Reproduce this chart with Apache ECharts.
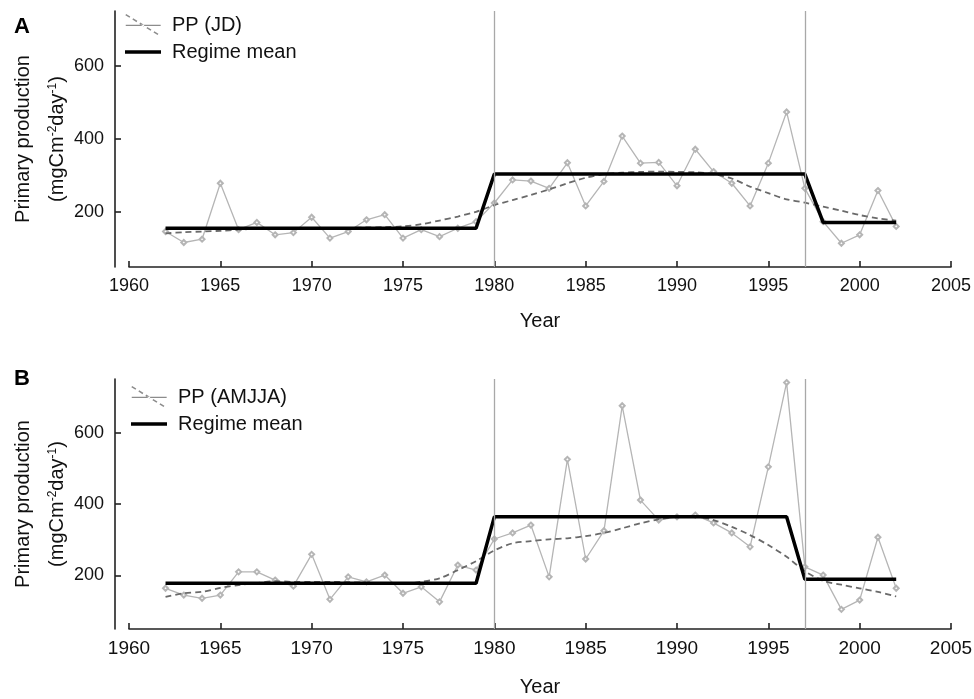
<!DOCTYPE html>
<html><head><meta charset="utf-8">
<script src="https://cdn.jsdelivr.net/npm/echarts@6/dist/echarts.min.js"></script>
<style>html,body{margin:0;padding:0;background:#fff}#c{width:974px;height:699px}</style>
</head><body><div id="c"></div>
<script>
// ---- data ----
const years = [1962,1963,1964,1965,1966,1967,1968,1969,1970,1971,1972,1973,1974,1975,1976,1977,1978,1979,
  1980,1981,1982,1983,1984,1985,1986,1987,1988,1989,1990,1991,1992,1993,1994,1995,1996,1997,1998,1999,2000,2001,2002];

const ppJD = [147,117,126,279,152,172,138,144,186,129,147,179,193,129,152,133,156,174,
  225,288,285,265,335,217,284,408,334,336,272,372,311,279,217,334,474,265,174,115,138,259,161];
const smoothJD = [142,145,147,149,152,155,156,156,157,157,157,158,159,161,167,177,188,201,
  219,233,247,262,279,294,304,308,310,311,310,309,304,292,270,252,235,226,215,204,192,183,177];
const regimeJDYears = [1962,1979,1980,1997,1998,2002];
const regimeJDValues = [156,156,304,304,172,172];

const ppAMJJA = [164,145,136,145,210,210,187,170,259,133,196,182,201,150,168,126,229,215,
  302,319,341,196,525,246,325,675,411,355,364,369,347,319,280,504,740,224,201,105,131,307,164];
const smoothAMJJA = [140,150,154,165,173,179,184,182,182,182,181,180,178,177,182,192,215,240,
  270,290,296,301,304,310,319,332,346,357,364,364,355,336,313,285,252,212,185,174,164,154,141];
const regimeAMJJAYears = [1962,1979,1980,1996,1997,2002];
const regimeAMJJAValues = [178,178,364,364,189,189];

const shiftYears = [1980, 1997];
const yTickValues = [200, 400, 600];
const panelLabels = ['A', 'B'];
const legendNames = ['PP (JD)', 'PP (AMJJA)'];

// ---- build ----
const FONT = "'Liberation Sans', Arial, sans-serif";
const pairs = (xs, ys) => xs.map((x, i) => [x, ys[i]]);

const ppIcon = 'path://M0 0 L0 0 Z M36 22 L36 22 Z M0 10.4 L36 10.4 L36 11.6 L0 11.6 Z ' +
  'M-0.42 0.68 L3.85 3.29 L4.69 1.93 L0.42 -0.68 Z ' +
  'M6.83 5.11 L11.1 7.71 L11.94 6.35 L7.67 3.75 Z ' +
  'M14.08 9.54 L18.35 12.14 L19.19 10.78 L14.92 8.18 Z ' +
  'M21.33 13.97 L25.6 16.57 L26.44 15.21 L22.17 12.61 Z ' +
  'M28.58 18.39 L32.85 21.0 L33.69 19.64 L29.42 17.03 Z';
const regIcon = 'path://M0 0 L0 0 Z M36 22 L36 22 Z M0 9.2 L36 9.2 L36 12.8 L0 12.8 Z';

const panels = [
  {pp: ppJD, sm: smoothJD, ry: regimeJDYears, rv: regimeJDValues, top: 11, height: 256, xFont: 18, nameGap: 44},
  {pp: ppAMJJA, sm: smoothAMJJA, ry: regimeAMJJAYears, rv: regimeAMJJAValues, top: 379, height: 250, xFont: 19, nameGap: 48}
];

const grid = [], xAxis = [], yAxis = [], series = [], legend = [], graphic = [];
panels.forEach((p, i) => {
  grid.push({left: 129, right: 23, top: p.top, height: p.height, containLabel: false, outerBoundsMode: 'none'});
  xAxis.push({
    type: 'value', gridIndex: i, min: 1960, max: 2005, interval: 5,
    axisLine: {show: true, onZero: false, lineStyle: {color: '#222', width: 1.6}},
    axisTick: {show: true, inside: true, length: 6, lineStyle: {color: '#222', width: 1.6}},
    axisLabel: {fontSize: p.xFont, color: '#111', margin: 10, fontFamily: FONT, formatter: v => String(v)},
    splitLine: {show: false},
    name: 'Year', nameLocation: 'middle', nameGap: p.nameGap, nameMoveOverlap: false,
    nameTextStyle: {fontSize: 20, color: '#111', fontFamily: FONT}
  });
  yAxis.push({
    type: 'value', gridIndex: i, min: 50, max: 750, offset: 14,
    axisLine: {show: true, onZero: false, lineStyle: {color: '#222', width: 1.6}},
    axisTick: {show: true, inside: true, length: 6, customValues: yTickValues, lineStyle: {color: '#222', width: 1.6}},
    axisLabel: {fontSize: 18, color: '#111', margin: 11, fontFamily: FONT, customValues: yTickValues, formatter: v => String(v)},
    splitLine: {show: false},
    name: '{t|Primary production}\n{t|(mgCm}{s|-2}{t|day}{s|-1}{t|)}',
    nameLocation: 'middle', nameRotate: 90, nameGap: 41, nameMoveOverlap: false,
    nameTextStyle: {
      fontFamily: FONT, color: '#111', fontSize: 20, lineHeight: 34,
      rich: {
        t: {fontSize: 20, lineHeight: 34, fontFamily: FONT, color: '#111'},
        s: {fontSize: 12, verticalAlign: 'top', padding: [7, 0, 0, 0], fontFamily: FONT, color: '#111'}
      }
    }
  });
  series.push({
    name: legendNames[i], type: 'line', xAxisIndex: i, yAxisIndex: i,
    data: pairs(years, p.pp),
    lineStyle: {color: '#b5b5b5', width: 1.3},
    itemStyle: {color: '#b5b5b5', borderWidth: 1},
    symbol: 'emptyDiamond', symbolSize: 5, showSymbol: true,
    z: 2,
    markLine: {
      silent: true, symbol: ['none', 'none'], animation: false,
      label: {show: false},
      lineStyle: {color: '#a8a8a8', type: 'solid', width: 1.3},
      data: shiftYears.map(y => ({xAxis: y}))
    }
  });
  series.push({
    name: 'smooth' + i, type: 'line', xAxisIndex: i, yAxisIndex: i,
    data: pairs(years, p.sm), smooth: 0.3,
    lineStyle: {color: '#6a6a6a', width: 1.8, type: [6, 4]},
    showSymbol: false, symbol: 'none', z: 3
  });
  series.push({
    name: 'Regime mean', type: 'line', xAxisIndex: i, yAxisIndex: i,
    data: pairs(p.ry, p.rv),
    lineStyle: {color: '#000', width: 3.5},
    itemStyle: {color: '#000'},
    showSymbol: false, symbol: 'none', z: 4
  });
  legend.push({
    orient: 'vertical', left: i === 0 ? 125 : 131, top: i === 0 ? 14 : 386,
    itemWidth: 36, itemHeight: 22, itemGap: 5, padding: 0, selectedMode: false,
    itemStyle: {borderWidth: 0},
    textStyle: {fontSize: 20, color: '#111', fontFamily: FONT, padding: [0, 0, 0, 6]},
    data: [
      {name: legendNames[i], icon: ppIcon, itemStyle: {color: '#8c8c8c', borderWidth: 0}},
      {name: 'Regime mean', icon: regIcon, itemStyle: {color: '#000', borderWidth: 0}}
    ]
  });
  graphic.push({
    type: 'text', left: 14, top: i === 0 ? 16 : 368,
    style: {text: panelLabels[i], font: 'bold 22px ' + FONT, fill: '#000'}
  });
});

const chart = echarts.init(document.getElementById('c'), null, {renderer: 'canvas'});
chart.setOption({
  animation: false, backgroundColor: '#fff',
  grid, xAxis, yAxis, series, legend, graphic
});
</script></body></html>
